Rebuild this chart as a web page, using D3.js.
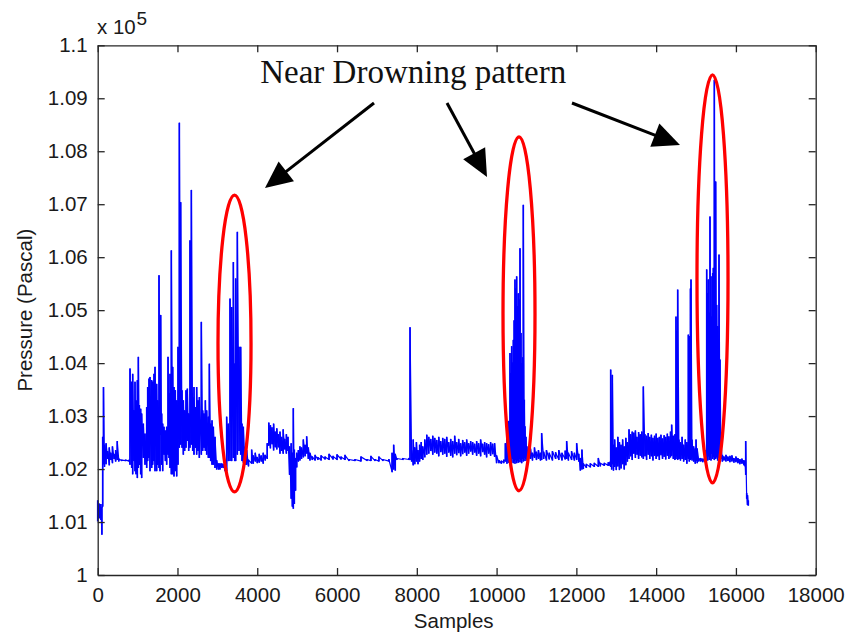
<!DOCTYPE html>
<html><head><meta charset="utf-8">
<script src="https://cdn.jsdelivr.net/npm/d3@7"></script>
<style>
html,body{margin:0;padding:0;background:#fff;}
svg{display:block;}
</style></head>
<body><svg id="chart" width="849" height="638"></svg>
<script>
// ---------- axis ticks / labels ----------
const xTicks = [0,2000,4000,6000,8000,10000,12000,14000,16000,18000];
const yTicks = [100000,101000,102000,103000,104000,105000,106000,107000,108000,109000,110000];
const yTickLabels = ["1","1.01","1.02","1.03","1.04","1.05","1.06","1.07","1.08","1.09","1.1"];
const xLabel = "Samples";
const yLabel = "Pressure (Pascal)";
const exponentBase = "x 10";
const exponentPower = "5";
const annotationText = "Near Drowning pattern";

// ---------- signal, read per column: [sample, low Pa, high Pa] ----------
const segStart = [
 [0,101020,101400],[40,101080,101340],[80,101050,101330],[105,100770,101250],[125,101300,102600],
 [145,102100,103540],[170,102050,102450],[210,102100,102480],[250,102200,102330],[290,102080,102400],
 [330,102180,102300],[370,102120,102420],[410,102200,102280],[450,102150,102350],[490,102180,102520],
 [530,102150,102190],[600,102160,102170],[700,102160,102170],[790,102150,102170]
];
const segBurst1 = [
 [810,102090,103890],[852,102030,103640],[877,101910,103790],[910,102160,103100],[935,101970,103640],
 [960,101910,103290],[994,101840,103670],[1019,102030,104110],[1044,102090,103200],[1077,101910,103130],
 [1102,101840,103040],[1144,102220,102850],[1186,102090,102660],[1228,102030,103160],[1253,102160,103540],
 [1286,102220,103700],[1311,101970,103730],[1353,102030,103670],[1378,102090,103640],[1411,102160,103790],
 [1437,101970,103920],[1478,101970,103600],[1503,102090,103290],[1537,102030,105650],[1562,101970,103860],
 [1579,102660,104900],[1604,102090,103040],[1629,101970,102850],[1662,102280,102790],[1696,102160,102720],
 [1729,102090,102790],[1763,102280,104110],[1788,102220,103420],[1813,102030,103790],[1846,101910,106120],
 [1880,101910,103920],[1913,101870,103540],[1946,101970,103480],[1980,101870,103290],[2013,102090,104300],
 [2047,102410,108530],[2080,102470,107030],[2114,102410,103480],[2147,102280,103290],[2180,102350,103100],
 [2214,102410,103480],[2247,102540,103510],[2281,102350,103040],[2314,102410,106310],[2348,102470,107260],
 [2381,102350,103350],[2414,102280,103540],[2448,102410,103160],[2481,102280,103540],[2515,102350,103290],
 [2548,102220,103350],[2598,102280,104770],[2632,102350,103100],[2665,102410,103040],[2699,102350,103290],
 [2732,102280,103100],[2774,102220,102980],[2799,102220,103980],[2832,102160,102850],[2866,102090,102910],
 [2899,102090,102790],[2941,102030,102600],[2983,102000,102160],[3030,102000,102100],[3066,102000,102100],
 [3110,102030,102100],[3150,102030,102090],[3192,101970,102090],[3233,101970,102980],[3275,102160,102850],
 [3317,102160,105210],[3359,102160,105050],[3401,102220,105900],[3434,102160,103980],[3459,102160,105590],
 [3501,102280,106470],[3543,102350,104300],[3584,102280,104300],[3618,102160,102850],[3651,102130,102790],
 [3693,102090,102410],[3735,102090,102350]
];
const segQuietMid = [
 [3780,102060,102170],[3860,102110,102360],[3900,102110,102250],[3950,102150,102300],[4000,102120,102220],
 [4050,102130,102280],[4100,102150,102250],[4150,102110,102300],[4200,102170,102260],[4250,102200,102480],
 [4290,102450,102870],[4330,102400,102820],[4370,102480,102780],[4410,102360,102850],[4450,102420,102700],
 [4490,102380,102760],[4530,102420,102650],[4570,102300,102700],[4610,102350,102600],[4650,102300,102740],
 [4690,102380,102560],[4730,102300,102650],[4770,102350,102600],[4810,101900,102420],[4850,101450,102480],
 [4880,101300,102300],[4904,101260,103140],[4930,101350,102360],[4960,101600,102200],[4990,102040,102300],
 [5030,102150,102350],[5070,102170,102420],[5110,102200,102400],[5155,102230,102550],[5200,102250,102450],
 [5239,102300,102610],[5280,102200,102400],[5322,102170,102300],[5380,102180,102230],[5450,102170,102260],
 [5520,102180,102220],[5600,102170,102250],[5700,102190,102230],[5800,102180,102280],[5900,102190,102240],
 [6000,102180,102270],[6100,102190,102230],[6200,102180,102260],[6300,102160,102180],[6450,102160,102180],
 [6600,102150,102230],[6750,102160,102180],[6850,102160,102240],[6950,102160,102180],[7050,102150,102230],
 [7150,102160,102180],[7300,102150,102180],[7380,101950,102300],[7420,102000,102450],[7460,101980,102280],
 [7500,102180,102200],[7650,102180,102200],[7800,102180,102200],[7830,102180,104670],[7870,102150,102350],
 [7910,102080,102550],[7950,102100,102400],[7990,102150,102500],[8030,102100,102350],[8070,102150,102450],
 [8110,102200,102500],[8150,102180,102420],[8200,102230,102550],[8250,102280,102640],[8300,102300,102600],
 [8350,102350,102560],[8400,102280,102620],[8450,102320,102580],[8500,102300,102540],[8550,102250,102600],
 [8600,102330,102520],[8650,102280,102580],[8700,102300,102560],[8750,102240,102600],[8800,102320,102500],
 [8850,102260,102560],[8900,102230,102520],[8950,102300,102620],[9000,102270,102500],[9050,102310,102560],
 [9100,102250,102480],[9150,102290,102540],[9200,102320,102500],[9250,102260,102550],[9300,102300,102480],
 [9350,102340,102520],[9400,102280,102500],[9450,102320,102470],[9500,102260,102520],[9550,102300,102480],
 [9600,102250,102550],[9650,102330,102470],[9700,102280,102500],[9750,102230,102480],[9800,102300,102460],
 [9850,102260,102500],[9900,102290,102470],[9950,102240,102480],[10000,102120,102250],[10060,102120,102160],
 [10120,102110,102150],[10180,102120,102170],[10220,102150,102480],[10260,102110,102600],[10300,102130,102900]
];
const segBurst2 = [
 [10336,102110,104180],[10357,102150,103800],[10378,102130,104310],[10400,102200,104000],[10420,102120,104430],
 [10440,102160,104800],[10461,102110,105570],[10487,102180,105400],[10503,102120,105630],[10528,102170,105060],
 [10545,102130,105310],[10570,102200,105190],[10587,102140,106160],[10612,102180,104560],[10629,102120,103990],
 [10654,102200,104100],[10670,102150,106980],[10695,102220,103300],[10712,102160,102800],[10737,102200,102600],
 [10760,102170,102420],[10800,102200,102350]
];
const segQuietLate = [
 [10850,102200,102380],[10900,102170,102300],[10950,102220,102400],[11000,102180,102320],[11050,102200,102350],
 [11100,102170,102300],[11130,102180,102670],[11180,102200,102320],[11250,102170,102350],[11320,102190,102300],
 [11400,102170,102330],[11480,102200,102310],[11560,102180,102350],[11640,102170,102300],[11720,102190,102340],
 [11757,102200,102520],[11800,102170,102300],[11880,102180,102330],[11950,102170,102300],[12008,102180,102480],
 [12060,102150,102280],[12100,101980,102200],[12140,102000,102360],[12175,102010,102100],[12250,102030,102090],
 [12350,102040,102100],[12450,102050,102110],[12551,102050,102200],[12600,102060,102110],[12700,102070,102110],
 [12800,102070,102120],[12843,102070,102130],[12860,102050,103870],[12885,102000,102600],[12902,102100,103770],
 [12930,101980,102450],[12960,102050,102550],[13000,101990,102400],[13040,102060,102600],[13080,101990,102500],
 [13120,102020,102450],[13160,102100,102550],[13200,102000,102420],[13240,102080,102580],[13280,102150,102500],
 [13320,102200,102740],[13360,102250,102650],[13400,102180,102700],[13440,102300,102680],[13480,102220,102720],
 [13520,102280,102600],[13560,102200,102690],[13600,102260,102650],[13640,102230,102700],[13679,102200,103550],
 [13720,102250,102650],[13760,102180,102620],[13800,102280,102670],[13840,102200,102600],[13880,102250,102640],
 [13920,102170,102580],[13960,102260,102620],[14000,102200,102660],[14040,102250,102580],[14080,102180,102600],
 [14120,102270,102640],[14160,102200,102570],[14200,102240,102630],[14240,102190,102600],[14280,102260,102660],
 [14320,102200,102610],[14360,102230,102700],[14389,102260,102830],[14430,102200,102620],[14470,102180,102650],
 [14498,102200,104870],[14520,102250,104600],[14540,102180,105380],[14573,102200,102550],[14610,102170,102500],
 [14650,102200,102600],[14690,102150,102450],[14730,102180,102550],[14770,102110,102500],[14807,102200,104530],
 [14830,102150,104500],[14860,102180,105400],[14874,102200,105570],[14900,102170,102550],[14940,102150,102420],
 [14980,102110,102380],[15000,102160,102550],[15030,102120,102380],[15070,102150,102200],[15120,102150,102200],
 [15170,102140,102190],[15220,102150,102200],[15250,102140,102350]
];
const segBurst3 = [
 [15267,102230,105760],[15292,102170,105310],[15308,102250,105570],[15333,102180,104940],[15350,102220,106760],
 [15375,102170,105630],[15392,102300,104870],[15417,102200,105690],[15434,102240,105790],[15459,102180,109340],
 [15475,102250,106570],[15492,102200,107420],[15517,102230,105090],[15542,102170,104690],[15576,102220,106040],
 [15601,102180,104060],[15626,102200,102480]
];
const segTail = [
 [15660,102150,102260],[15700,102170,102230],[15750,102150,102260],[15800,102160,102230],[15850,102140,102240],
 [15900,102150,102250],[15950,102130,102200],[16000,102140,102230],[16050,102120,102200],[16100,102100,102180],
 [16150,102110,102190],[16200,102080,102160],[16230,102060,102140],[16245,101900,102520],[16270,101450,101540],
 [16290,101330,101500],[16311,101320,101400]
];

// ---------- annotations (data coordinates) ----------
const ellipses = [
 {sample:3430, low:101570, high:107170, halfWidth:414},
 {sample:10562, low:101590, high:108270, halfWidth:401},
 {sample:15413, low:101740, high:109440, halfWidth:389}
];
const arrows = [
 {from:[6927,108911], to:[4194,107307]},
 {from:[8757,108911], to:[9760,107514]},
 {from:[11890,108911], to:[14598,108118]}
];
const labelAnchor = [4074, 109283];

// ---------- drawing ----------
const svg = d3.select("#chart");
const W = 849, H = 638;
const x = d3.scaleLinear().domain([0,18000]).range([97.7,815.7]);
const y = d3.scaleLinear().domain([100000,110000]).range([575,45.3]);
const font = "'Liberation Sans', Arial, sans-serif";
const axisColor = "#262626";
const blue = "#0000ff";

svg.append("rect").attr("width",W).attr("height",H).attr("fill","#fff");

// signal: trace through each column's min and max, plus the column's min-max stroke
const columns = [].concat(segStart, segBurst1, segQuietMid, segBurst2, segQuietLate, segBurst3, segTail);
const pts = [];
columns.forEach(c => { pts.push([c[0], c[1]]); pts.push([c[0], c[2]]); });
const line = d3.line().x(d => x(d[0])).y(d => y(d[1]));
svg.append("path").datum(pts).attr("d", line)
  .attr("fill","none").attr("stroke",blue).attr("stroke-width",1.2).attr("stroke-linejoin","round");
svg.append("g").selectAll("line").data(columns).enter().append("line")
  .attr("x1",d => x(d[0])).attr("x2",d => x(d[0]))
  .attr("y1",d => y(d[1]) + 0.5).attr("y2",d => y(d[2]) - 0.5)
  .attr("stroke",blue).attr("stroke-width",1.6);

// axes
const fmtY = (d) => yTickLabels[yTicks.indexOf(d)];
const gx = svg.append("g").attr("transform",`translate(0,${y.range()[0]})`)
  .call(d3.axisBottom(x).tickValues(xTicks).tickFormat(d3.format("d")).tickSizeInner(-7).tickSizeOuter(0).tickPadding(12));
const gxt = svg.append("g").attr("transform",`translate(0,${y.range()[1]})`)
  .call(d3.axisTop(x).tickValues(xTicks).tickFormat("").tickSizeInner(-7).tickSizeOuter(0));
const gy = svg.append("g").attr("transform",`translate(${x.range()[0]},0)`)
  .call(d3.axisLeft(y).tickValues(yTicks).tickFormat(fmtY).tickSizeInner(-7).tickSizeOuter(0).tickPadding(10));
const gyr = svg.append("g").attr("transform",`translate(${x.range()[1]},0)`)
  .call(d3.axisRight(y).tickValues(yTicks).tickFormat("").tickSizeInner(-7).tickSizeOuter(0));
[gx,gxt,gy,gyr].forEach(g => {
  g.selectAll("path.domain").attr("stroke",axisColor).attr("stroke-width",1.3);
  g.selectAll(".tick line").attr("stroke",axisColor).attr("stroke-width",1.3);
  g.selectAll("text").attr("fill","#1a1a1a").style("font-family",font).style("font-size","20.5px");
});

// labels
svg.append("text").attr("x",(x.range()[0]+x.range()[1])/2 - 3).attr("y",628)
  .attr("text-anchor","middle").attr("fill","#1a1a1a").style("font-family",font).style("font-size","20.5px").text(xLabel);
svg.append("text").attr("transform",`translate(32,${(y.range()[0]+y.range()[1])/2}) rotate(-90)`)
  .attr("text-anchor","middle").attr("fill","#1a1a1a").style("font-family",font).style("font-size","20.5px").text(yLabel);
svg.append("text").attr("x",97).attr("y",33.5).attr("fill","#1a1a1a").style("font-family",font).style("font-size","20.5px").text(exponentBase);
svg.append("text").attr("x",136.5).attr("y",25).attr("fill","#1a1a1a").style("font-family",font).style("font-size","19px").text(exponentPower);

// ellipses
svg.selectAll("ellipse.mark").data(ellipses).enter().append("ellipse")
  .attr("cx",d => x(d.sample)).attr("cy",d => y((d.low+d.high)/2))
  .attr("rx",d => x(d.sample+d.halfWidth)-x(d.sample)).attr("ry",d => (y(d.low)-y(d.high))/2)
  .attr("fill","none").attr("stroke","#ff0000").attr("stroke-width",3.3);

// arrows
const headLen = 27, headHalf = 12.5;
arrows.forEach(a => {
  const x0 = x(a.from[0]), y0 = y(a.from[1]), x1 = x(a.to[0]), y1 = y(a.to[1]);
  const dx = x1-x0, dy = y1-y0, L = Math.hypot(dx,dy), ux = dx/L, uy = dy/L;
  const bx = x1 - ux*headLen, by = y1 - uy*headLen;
  svg.append("line").attr("x1",x0).attr("y1",y0).attr("x2",bx+ux*2).attr("y2",by+uy*2)
    .attr("stroke","#000").attr("stroke-width",3);
  svg.append("polygon").attr("points",[[x1,y1],[bx - uy*headHalf, by + ux*headHalf],[bx + uy*headHalf, by - ux*headHalf]].map(p=>p.join(",")).join(" "))
    .attr("fill","#000");
});

svg.append("text").attr("x",x(labelAnchor[0])).attr("y",y(labelAnchor[1]))
  .attr("fill","#111").style("font-family","'Liberation Serif','Times New Roman',serif").style("font-size","33px").text(annotationText);
</script>
</body></html>
